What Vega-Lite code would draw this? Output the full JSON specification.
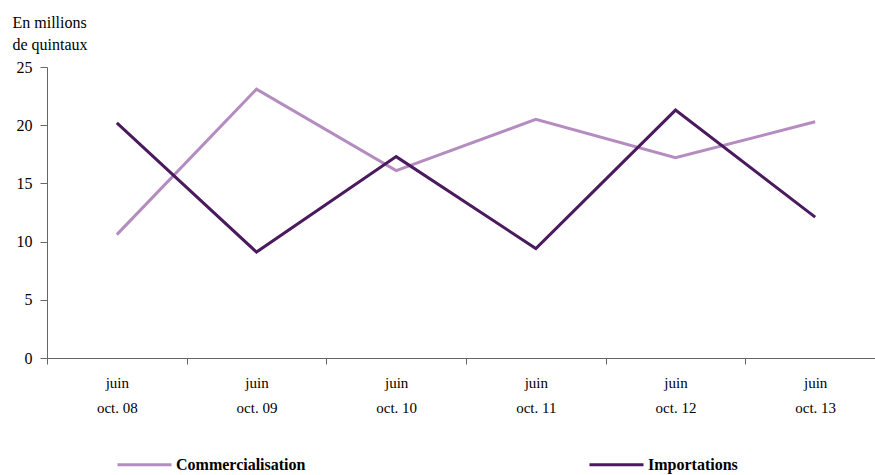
{
  "$schema": "https://vega.github.io/schema/vega-lite/v6.json",
  "width": 838,
  "height": 291,
  "autosize": {"type": "none"},
  "padding": {"left": 47, "top": 67, "right": 0, "bottom": 117},
  "config": {
    "view": {"stroke": null},
    "font": "Liberation Serif"
  },
  "data": {
    "values": [
      {"periode": "oct. 08", "serie": "Commercialisation", "valeur": 10.6},
      {"periode": "oct. 09", "serie": "Commercialisation", "valeur": 23.1},
      {"periode": "oct. 10", "serie": "Commercialisation", "valeur": 16.1},
      {"periode": "oct. 11", "serie": "Commercialisation", "valeur": 20.5},
      {"periode": "oct. 12", "serie": "Commercialisation", "valeur": 17.2},
      {"periode": "oct. 13", "serie": "Commercialisation", "valeur": 20.3},
      {"periode": "oct. 08", "serie": "Importations", "valeur": 20.2},
      {"periode": "oct. 09", "serie": "Importations", "valeur": 9.1},
      {"periode": "oct. 10", "serie": "Importations", "valeur": 17.3},
      {"periode": "oct. 11", "serie": "Importations", "valeur": 9.4},
      {"periode": "oct. 12", "serie": "Importations", "valeur": 21.3},
      {"periode": "oct. 13", "serie": "Importations", "valeur": 12.1}
    ]
  },
  "mark": {"type": "line", "strokeWidth": 3},
  "encoding": {
    "x": {
      "field": "periode",
      "type": "nominal",
      "sort": null,
      "scale": {"type": "band", "paddingInner": 0, "paddingOuter": 0},
      "axis": {
        "title": null,
        "labelAngle": 0,
        "tickBand": "extent",
        "labelExpr": "datum.label ? ['juin', datum.label] : ''",
        "labelLineHeight": 25,
        "labelFontSize": 15,
        "labelColor": "#000",
        "labelPadding": 11,
        "tickSize": 6,
        "tickColor": "#666",
        "domainColor": "#666",
        "labelFont": "Liberation Serif"
      }
    },
    "y": {
      "field": "valeur",
      "type": "quantitative",
      "scale": {"domain": [0, 25]},
      "axis": {
        "values": [0, 5, 10, 15, 20, 25],
        "grid": false,
        "title": ["En millions", "de quintaux"],
        "titleAngle": 0,
        "titleAlign": "left",
        "titleBaseline": "alphabetic",
        "titleX": -35,
        "titleY": -40,
        "titleLineHeight": 22,
        "titleFontSize": 16,
        "titleFontWeight": "normal",
        "titleFont": "Liberation Serif",
        "titleColor": "#000",
        "labelFontSize": 16,
        "labelColor": "#000",
        "labelFont": "Liberation Serif",
        "labelPadding": 8,
        "tickSize": 7,
        "tickColor": "#666",
        "domainColor": "#666"
      }
    },
    "color": {
      "field": "serie",
      "type": "nominal",
      "scale": {"domain": ["Commercialisation", "Importations"], "range": ["#B48CC0", "#4B1A5E"]},
      "legend": {
        "title": null,
        "orient": "none",
        "legendX": 69,
        "legendY": 369,
        "direction": "horizontal",
        "columns": 2,
        "columnPadding": 277,
        "symbolType": "stroke",
        "symbolSize": 2916,
        "symbolStrokeWidth": 3,
        "labelOffset": 3,
        "labelFontSize": 16,
        "labelFontWeight": "bold",
        "labelFont": "Liberation Serif",
        "labelColor": "#000"
      }
    }
  }
}
